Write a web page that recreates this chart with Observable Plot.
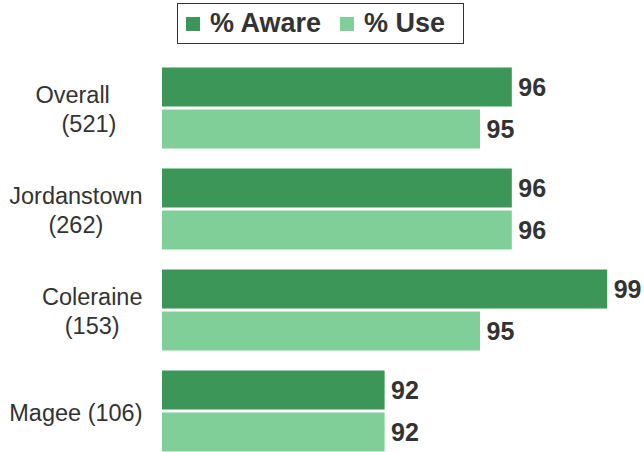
<!DOCTYPE html>
<html>
<head>
<meta charset="utf-8">
<script src="https://cdn.jsdelivr.net/npm/d3@7"></script>
<script src="https://cdn.jsdelivr.net/npm/@observablehq/plot@0.6"></script>
<style>
  html, body { margin: 0; padding: 0; background: #fff; overflow: hidden; }
  body { width: 644px; height: 452px; font-family: "Liberation Sans", Arial, Helvetica, sans-serif; }
  #legend { position: relative; height: 52px; }
  #legend .box { position: absolute; left: 177px; top: 3px; width: 287px; height: 41px; box-sizing: border-box;
    border: 1px solid #333; display: flex; align-items: center; padding-left: 8px; }
  #legend .sw { width: 14px; height: 14px; margin-right: 10px; flex: none; }
  #legend .lab { font-weight: bold; font-size: 27px; color: #333; margin-right: 19px; white-space: nowrap; }
  #chart svg { display: block; }
</style>
</head>
<body>
<div id="legend"></div>
<div id="chart"></div>
<script>
const categories = ["Overall", "Jordanstown", "Coleraine", "Magee"];
const counts = [521, 262, 153, 106];
const series = ["% Aware", "% Use"];
const aware = [96, 96, 99, 92];
const use = [95, 96, 95, 92];
const colors = ["#3c9658", "#80cf99"];
const xDomain = [85, 100];

// category labels (Overall has trailing spaces in the original label)
const labelText = {
  "Overall": "Overall\u00a0\u00a0\u00a0\u00a0\u00a0\n(521)",
  "Jordanstown": "Jordanstown\n(262)",
  "Coleraine": "Coleraine\n(153)",
  "Magee": "Magee (106)"
};

const data = [];
categories.forEach((c, i) => {
  data.push({category: c, series: series[0], value: aware[i]});
  data.push({category: c, series: series[1], value: use[i]});
});
const labels = categories.map((c, i) => ({category: c, label: labelText[c]}));

// legend
const legend = document.getElementById("legend");
const box = document.createElement("div");
box.className = "box";
series.forEach((s, i) => {
  const sw = document.createElement("span");
  sw.className = "sw";
  sw.style.background = colors[i];
  const lab = document.createElement("span");
  lab.className = "lab";
  lab.textContent = s;
  box.appendChild(sw);
  box.appendChild(lab);
});
legend.appendChild(box);

const chart = Plot.plot({
  width: 644,
  height: 402,
  marginLeft: 162,
  marginRight: 5,
  marginTop: 13,
  marginBottom: 1,
  style: {fontFamily: "'Liberation Sans', Arial, Helvetica, sans-serif", background: "transparent"},
  x: {domain: xDomain, axis: null},
  y: {domain: series, padding: 0, axis: null},
  fy: {domain: categories, paddingInner: 0.1708, paddingOuter: 0, axis: null},
  color: {domain: series, range: colors},
  marks: [
    Plot.barX(data, {
      fy: "category", y: "series",
      x1: () => xDomain[0], x2: "value",
      fill: "series", insetTop: 1.5, insetBottom: 1.5
    }),
    Plot.text(data, {
      fy: "category", y: "series", x: "value",
      text: d => String(d.value),
      textAnchor: "start", dx: 6,
      fontSize: 25, fontWeight: "bold", fill: "#333"
    }),
    Plot.text(labels, {
      fy: "category", text: "label",
      frameAnchor: "left", dx: -20, textAnchor: "end",
      lineHeight: 1.2, fontSize: 23.5, fill: "#333",
      className: "catlabel"
    })
  ]
});
document.getElementById("chart").appendChild(chart);

// Excel-like label box: lines centered within a box right-aligned to the axis
chart.querySelectorAll(".catlabel text").forEach(t => {
  const spans = t.querySelectorAll("tspan");
  if (spans.length > 1) {
    const w = Math.max(...Array.from(spans, s => s.getComputedTextLength()));
    t.setAttribute("text-anchor", "middle");
    spans.forEach(s => s.setAttribute("x", -w / 2));
  }
});
</script>
</body>
</html>
